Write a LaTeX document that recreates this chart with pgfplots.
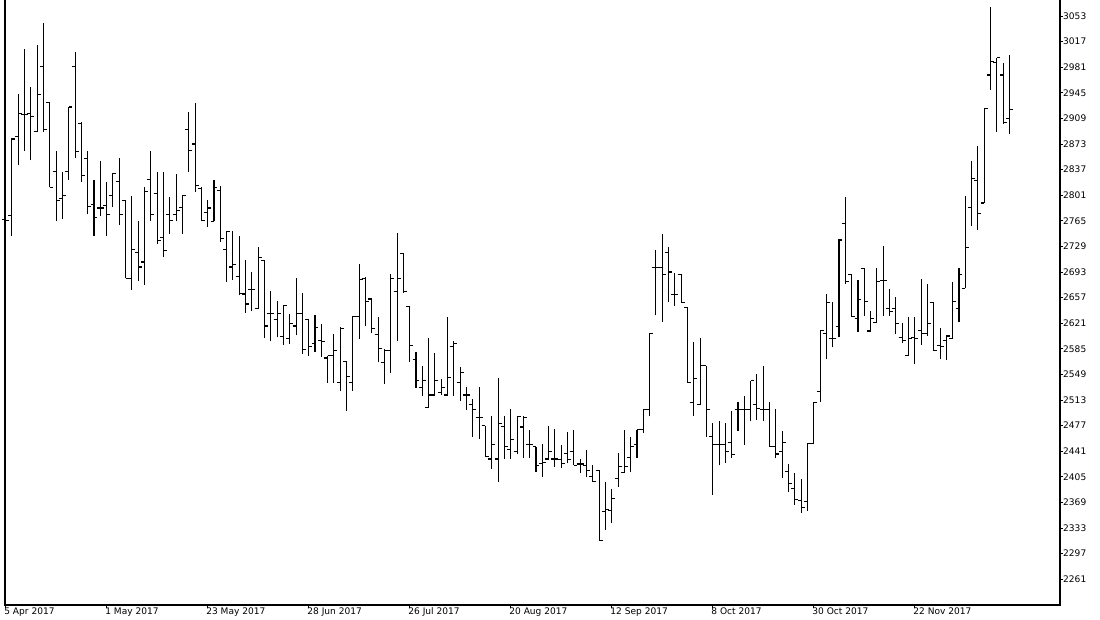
\documentclass[border=0pt]{standalone}
\usepackage{pgfplots}
\usepackage{pgfplotstable}
\usepackage{fontspec}
\setmainfont{DejaVu Sans}
\pgfplotsset{compat=1.18}
\pgfdeclareplotmark{otick}{\pgfpathmoveto{\pgfqpoint{-2.6pt}{0pt}}\pgfpathlineto{\pgfqpoint{0pt}{0pt}}\pgfusepathqstroke}
\pgfdeclareplotmark{ctick}{\pgfpathmoveto{\pgfqpoint{0pt}{0pt}}\pgfpathlineto{\pgfqpoint{2.6pt}{0pt}}\pgfusepathqstroke}
\pgfplotstableread{
i o h l c
0 2767 2777 2755 2765
1 2773 2881 2744 2880
2 2883 2943 2843 2916
3 2914 3007 2863 2914
4 2916 2953 2850 2912
5 2890 3012 2890 2943
6 2982 3043 2890 2894
7 2931 2932 2812 2812
8 2834 2863 2764 2793
9 2796 2834 2767 2801
10 2834 2925 2823 2925
11 2982 3003 2853 2863
12 2902 2904 2819 2829
13 2853 2863 2774 2785
14 2788 2823 2744 2770
15 2783 2849 2772 2783
16 2786 2820 2743 2774
17 2801 2832 2784 2832
18 2820 2853 2759 2774
19 2794 2794 2684 2684
20 2684 2800 2668 2725
21 2720 2764 2680 2700
22 2707 2812 2675 2806
23 2823 2863 2765 2774
24 2804 2834 2732 2737
25 2741 2834 2714 2723
26 2774 2799 2746 2765
27 2774 2831 2764 2780
28 2784 2800 2747 2800
29 2894 2918 2833 2864
30 2873 2930 2806 2815
31 2810 2812 2765 2765
32 2776 2794 2756 2783
33 2764 2822 2764 2812
34 2808 2814 2735 2740
35 2725 2751 2679 2750
36 2700 2750 2682 2704
37 2686 2744 2660 2663
38 2662 2710 2636 2648
39 2669 2693 2638 2669
40 2642 2728 2641 2714
41 2709 2710 2600 2617
42 2635 2666 2596 2635
43 2626 2652 2601 2635
44 2602 2647 2591 2646
45 2600 2634 2592 2621
46 2617 2684 2604 2635
47 2635 2663 2577 2584
48 2626 2627 2575 2588
49 2592 2633 2581 2615
50 2596 2620 2574 2595
51 2572 2575 2537 2575
52 2575 2606 2537 2583
53 2537 2615 2526 2614
54 2567 2567 2498 2546
55 2537 2631 2526 2630
56 2631 2704 2599 2683
57 2684 2686 2617 2651
58 2655 2655 2607 2614
59 2605 2630 2566 2585
60 2566 2585 2536 2583
61 2582 2690 2551 2684
62 2665 2748 2596 2684
63 2719 2719 2664 2665
64 2645 2645 2567 2590
65 2570 2580 2530 2541
66 2531 2561 2519 2540
67 2503 2600 2503 2520
68 2520 2579 2520 2540
69 2524 2543 2520 2531
70 2520 2629 2519 2544
71 2588 2596 2519 2592
72 2537 2560 2511 2552
73 2520 2531 2499 2520
74 2507 2515 2461 2499
75 2489 2531 2458 2489
76 2477 2477 2433 2433
77 2430 2490 2416 2451
78 2430 2544 2398 2480
79 2476 2491 2430 2447
80 2444 2500 2430 2457
81 2440 2490 2437 2490
82 2475 2490 2431 2489
83 2451 2471 2431 2451
84 2447 2447 2412 2421
85 2424 2451 2405 2425
86 2430 2477 2430 2440
87 2430 2472 2419 2430
88 2429 2450 2418 2424
89 2438 2468 2424 2429
90 2440 2471 2421 2421
91 2423 2430 2410 2423
92 2421 2443 2404 2414
93 2405 2421 2398 2398
94 2414 2414 2316 2316
95 2356 2398 2330 2359
96 2358 2388 2340 2375
97 2403 2438 2391 2419
98 2411 2471 2411 2419
99 2432 2461 2412 2447
100 2451 2471 2432 2471
101 2471 2500 2466 2499
102 2500 2607 2490 2607
103 2699 2724 2632 2699
104 2699 2746 2622 2690
105 2720 2728 2651 2693
106 2661 2691 2645 2661
107 2690 2690 2650 2650
108 2643 2643 2537 2537
109 2510 2594 2491 2543
110 2506 2600 2506 2562
111 2561 2561 2461 2500
112 2461 2480 2380 2451
113 2451 2483 2421 2451
114 2451 2480 2425 2440
115 2453 2498 2432 2436
116 2500 2510 2470 2500
117 2500 2519 2450 2500
118 2500 2540 2483 2540
119 2506 2550 2485 2501
120 2500 2561 2483 2500
121 2500 2510 2447 2447
122 2447 2500 2431 2437
123 2440 2469 2403 2453
124 2412 2423 2384 2395
125 2388 2410 2366 2373
126 2372 2402 2354 2362
127 2370 2452 2357 2452
128 2452 2510 2452 2510
129 2525 2611 2510 2611
130 2606 2662 2570 2650
131 2600 2651 2587 2600
132 2616 2739 2601 2738
133 2761 2799 2676 2679
134 2690 2690 2630 2630
135 2628 2682 2609 2654
136 2698 2698 2631 2651
137 2610 2638 2610 2628
138 2622 2699 2621 2679
139 2681 2730 2631 2681
140 2641 2669 2631 2637
141 2641 2658 2606 2620
142 2601 2621 2593 2597
143 2575 2629 2575 2600
144 2601 2629 2563 2600
145 2611 2683 2591 2607
146 2606 2676 2603 2621
147 2650 2650 2582 2582
148 2589 2614 2570 2588
149 2596 2605 2569 2603
150 2600 2679 2600 2651
151 2642 2699 2622 2689
152 2670 2800 2670 2728
153 2784 2849 2757 2825
154 2821 2870 2752 2775
155 2790 2923 2790 2923
156 2970 3065 2949 2989
157 2988 2994 2890 2994
158 2970 2987 2901 2903
159 2909 2998 2887 2921
}\ohlc
\begin{document}
\begin{tikzpicture}
\useasboundingbox (-3.75pt,-11.25pt) rectangle (821.25pt,453.75pt);
\begin{axis}[
  at={(0,0)}, anchor=south west,
  width=791.25pt, height=453.75pt, scale only axis,
  xmin=-0.1, xmax=167.0, ymin=2224.7, ymax=3075.5,
  axis line style={draw=none},
  tick align=outside, major tick length=2.4pt,
  tick style={black, line width=0.6pt},
  xtick pos=lower, ytick pos=right, yticklabel pos=right,
  xtick={0,16,32,48,64,80,96,112,128,144},
  xticklabels={5 Apr 2017,1 May 2017,23 May 2017,28 Jun 2017,26 Jul 2017,20 Aug 2017,12 Sep 2017,8 Oct 2017,30 Oct 2017,22 Nov 2017},
  ytick={2261,2297,2333,2369,2405,2441,2477,2513,2549,2585,2621,2657,2693,2729,2765,2801,2837,2873,2909,2945,2981,3017,3053},
  yticklabels={2261,2297,2333,2369,2405,2441,2477,2513,2549,2585,2621,2657,2693,2729,2765,2801,2837,2873,2909,2945,2981,3017,3053},
  ticklabel style={font=\fontsize{6.8}{8}\selectfont, text=black},
  xticklabel style={anchor=north west, xshift=-2.2pt, yshift=1.2pt, inner sep=1pt, text height=5pt, text depth=1.2pt},
  yticklabel style={anchor=west, xshift=-1.2pt, inner sep=1pt},
  clip=false,
]
\addplot[draw=none, mark=none, forget plot,
  error bars/.cd, y dir=plus, y explicit, error mark=none,
  error bar style={black, line width=0.8pt}]
  table[x=i, y=l, y error expr=\thisrow{h}-\thisrow{l}] {\ohlc};
\addplot[only marks, mark=otick, mark options={black, line width=0.8pt}] table[x=i, y=o] {\ohlc};
\addplot[only marks, mark=ctick, mark options={black, line width=0.8pt}] table[x=i, y=c] {\ohlc};
\draw[black, line width=0.8pt] (rel axis cs:0,1) -- (rel axis cs:0,0) -- (rel axis cs:1,0) -- (rel axis cs:1,1);
\end{axis}
\end{tikzpicture}
\end{document}
